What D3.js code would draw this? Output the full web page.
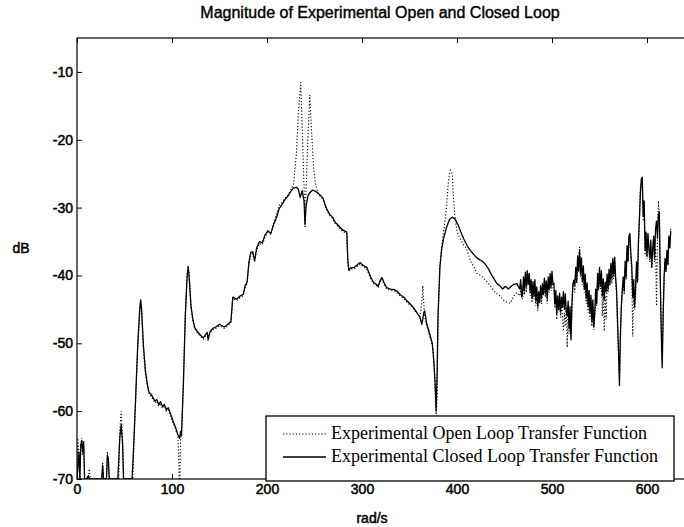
<!DOCTYPE html>
<html>
<head>
<meta charset="utf-8">
<script src="https://cdn.jsdelivr.net/npm/d3@7"></script>
<style>
  body { margin: 0; background: #fff; }
  svg { display: block; }
  text { fill: #000; }
</style>
</head>
<body>
<svg id="chart" width="684" height="527"></svg>
<script>
// Frequency response magnitudes, [rad/s, dB]
const closedLoopDb = [
  [0,-70],[2,-66],[3,-70],[4,-65],[5,-64.3],[6,-66],[7,-64.5],[8,-70],[10,-70],[12,-69.5],[13,-70],
  [26,-70],[27,-68],[28,-70],[31,-70],[32,-66.5],[33,-67],[34,-70],[43,-70],[45,-64],[46.5,-62],[48,-65],[49,-70],[58,-70],
  [60,-64],[62,-57],[64,-50],[66,-45],[67,-43.6],[68,-45],[70,-50.5],[72,-54],[74,-56],[76,-57.3],[78,-57.5],[80,-58],
  [82,-58.5],[84,-58.3],[86,-59],[88,-58.6],[90,-59.3],[92,-59],[94,-59.8],[96,-59.5],[98,-60.2],[100,-61],[102,-61.8],
  [104,-62.5],[106,-63.4],[108,-64],[109,-63],[110,-63.6],[112,-56],[114,-46],[116,-40],[117,-38.8],[118,-40],[120,-44.5],
  [122,-46.5],[124,-47.7],[127,-48.3],[130,-48.8],[133,-49.2],[135,-48.8],[137,-48.4],[138,-49.4],[140,-48.3],[143,-47.8],
  [146,-47.6],[150,-47.2],[155,-47.6],[158,-47.3],[162,-46.8],[163,-45],[164,-43.2],[168,-43.5],[172,-43],[175,-42.8],
  [177,-41.5],[179,-41],[181,-38],[183,-36.6],[185,-36.5],[187,-37.8],[189,-36],[192,-35],[195,-35.2],[198,-34],[201,-33.4],
  [204,-33.8],[207,-32.5],[210,-31.5],[213,-30.1],[216,-29.5],[219,-28.8],[222,-28.3],[225,-27.6],[228,-27.1],[231,-27],
  [233,-27.3],[235,-28.5],[237,-27.5],[239,-29],[240,-32.5],[241,-30],[243,-28.3],[245,-27.8],[248,-27.4],[251,-27.6],
  [254,-27.9],[257,-28.3],[259,-28.6],[261,-29.5],[263,-30.2],[266,-31],[269,-31.4],[272,-32.2],[275,-32.6],[278,-33.1],
  [281,-33.4],[284,-33.6],[285,-37.5],[286,-39.2],[288,-38.9],[292,-38.8],[296,-38.3],[298,-38.1],[301,-38.5],[305,-38.8],
  [307,-39.5],[309,-40.2],[312,-41],[315,-41.3],[317,-41.6],[319,-40.8],[321,-40.3],[323,-41],[326,-41.8],[330,-42],
  [334,-42.1],[337,-42.3],[340,-42.8],[344,-43.2],[347,-43.7],[350,-44.1],[354,-44.7],[357,-45.3],[361,-46.2],[363,-47.2],
  [365,-45.5],[366,-45.2],[368,-47],[370,-48],[372,-49],[374,-50],[375,-51.5],[376,-53.6],[377,-56],[378,-60],[379,-55],
  [380,-46],[382,-38.8],[384,-36],[386,-34.5],[389,-32.9],[392,-31.8],[395,-31.4],[398,-31.7],[401,-32.5],[404,-33.6],
  [407,-34.6],[411,-35.7],[414,-36.3],[417,-36.8],[420,-37.3],[424,-37.7],[427,-37.9],[430,-38.4],[433,-39],[436,-39.8],
  [439,-40.5],[442,-41.2],[445,-41.5],[448,-42],[451,-41.6],[454,-42],[457,-41.6],[460,-41.3],[463,-41.2],
  [466,-42.0],[467,-40.6],[468,-43.2],[469,-42.7],[470,-40.2],[471,-42.2],[472,-39.5],[473,-41.6],[474,-39.3],[475,-41.2],
  [476,-39.7],[477,-42.4],[478,-40.6],[479,-43.4],[480,-40.9],[481,-43.0],[482,-40.6],[483,-43.8],[484,-41.7],[485,-44.6],
  [486,-42.4],[487,-44.0],[488,-41.5],[489,-43.4],[490,-41.2],[491,-42.8],[492,-40.4],[493,-42.6],[494,-40.8],[495,-43.5],
  [496,-40.2],[497,-42.1],[498,-39.7],[499,-41.7],[500,-39.4],[501,-41.3],[502,-41.1],[503,-44.2],[504,-42.2],[505,-45.7],
  [506,-43.0],[507,-45.1],[508,-42.6],[509,-45.4],[510,-43.2],[511,-44.7],[512,-42.4],[513,-45.0],[514,-42.7],[515,-45.3],
  [516,-46.0],[517,-43.8],[518,-47.8],[519,-44.6],[520,-49.5],[521,-44.1],[522,-41.2],[523,-40.7],[524,-41.4],[525,-38.8],
  [526,-41.0],[527,-37.1],[528,-39.3],[529,-36.2],[530,-39.8],[531,-37.4],[532,-40.9],[533,-38.6],[534,-42.0],[535,-39.8],
  [536,-43.4],[537,-41.1],[538,-44.6],[539,-42.2],[540,-45.5],[541,-42.9],[542,-46.8],[543,-43.6],[544,-47.6],[545,-45.5],
  [546,-42.0],[547,-44.2],[548,-39.7],[549,-41.9],[550,-38.8],[551,-41.6],[552,-39.3],[553,-43.0],[554,-40.5],[555,-43.6],
  [556,-41.0],[557,-42.4],[558,-39.8],[559,-42.0],[560,-39.1],[561,-41.2],[562,-38.2],[563,-40.4],[564,-37.5],[565,-40.0],
  [566,-37.3],[567,-40.4],[568,-42.2],[569,-46.8],[570,-51.0],[571,-56.2],[572,-49.0],[573,-44.5],[574,-42.0],[575,-40.2],
  [576,-42.3],[577,-37.9],[578,-40.2],[579,-35.6],[580,-37.9],[581,-34.2],[582,-33.8],[583,-36.8],[584,-38.7],[585,-43.2],
  [586,-40.6],[587,-44.7],[588,-41.8],[589,-38.0],[590,-40.9],[591,-35.0],[592,-31.6],[593,-28.0],[594,-25.8],[595,-25.5],
  [596,-31.2],[597,-29.0],[598,-36.3],[599,-33.6],[600,-37.2],[601,-33.8],[602,-36.0],[603,-37.4],[604,-34.8],[605,-38.7],
  [606,-36.1],[607,-34.2],[608,-37.4],[609,-33.2],[610,-32.0],[611,-34.5],[612,-31.0],[613,-30.6],[614,-41.0],[615,-48.5],
  [616,-53.6],[617,-46.0],[618,-40.2],[619,-37.5],[620,-39.4],[621,-36.3],[622,-38.4],[623,-34.2],[624,-35.9],[625,-33.4]
];

const openLoopDb = [
  [0,-70],[1,-64],[2,-66],[3,-70],[4,-65],[5,-64],[6,-66.5],[7,-65],[8,-70],[12,-70],[13,-68.5],[14,-70],
  [26,-70],[27,-67.5],[28,-70],[31,-70],[32,-66],[33,-68],[34,-70],[44,-70],[45,-63],[46.5,-60],[48,-64],[49,-70],[57,-70],
  [58,-74],[60,-64.5],[62,-57.5],[64,-50.5],[66,-45.5],[67,-43.8],[68,-45.5],[70,-51],[72,-54.5],[74,-56.3],[76,-57.5],
  [78,-57.8],[80,-58.2],[82,-58.8],[84,-58.5],[86,-59.3],[88,-58.8],[90,-59.6],[92,-59.2],[94,-60],[96,-59.8],[98,-60.5],
  [100,-61.3],[102,-62],[104,-62.8],[106,-63.5],[107,-66],[108,-73],[109,-64],[110,-63.4],[112,-55.5],[114,-45.5],
  [116,-39.5],[117,-38.5],[118,-39.8],[120,-44.8],[122,-46.8],[124,-47.9],[127,-48.5],[130,-49],[133,-49.4],[135,-49],
  [137,-48.6],[138,-49.6],[140,-48.5],[143,-48],[146,-47.8],[150,-47.4],[155,-47.8],[158,-47.5],[162,-47],[163,-45.2],
  [164,-43.4],[168,-43.7],[172,-43.2],[175,-43],[177,-41.8],[179,-41.2],[181,-38.3],[183,-37],[185,-36.8],[187,-38],
  [189,-36.3],[192,-35.3],[195,-35.5],[198,-34.3],[201,-33.6],[204,-34],[207,-32.2],[210,-31],[213,-29.6],[216,-29.2],
  [219,-28.6],[222,-28.2],[225,-27.4],[228,-26.5],[231,-22],[233,-16],[235.5,-11.5],[237,-18],[239,-27],[240,-33],
  [241,-28],[243,-20],[245,-13.4],[247,-19],[249,-24],[251,-26.5],[254,-28],[257,-28.5],[259,-28.8],[261,-29.7],
  [263,-30.4],[266,-31.2],[269,-31.6],[272,-32.4],[275,-32.8],[278,-33.3],[281,-33.6],[284,-33.8],[285,-37.8],[286,-39.4],
  [288,-39.1],[292,-39],[296,-38.5],[298,-38.3],[301,-38.7],[305,-39],[307,-39.7],[309,-40.4],[312,-41.2],[315,-41.5],
  [317,-41.8],[319,-41],[321,-40.5],[323,-41.2],[326,-42],[330,-42.2],[334,-42.3],[337,-42.5],[340,-43],[344,-43.4],
  [347,-43.9],[350,-44.3],[354,-44.9],[357,-45.5],[361,-46],[363,-44],[364,-41.5],[365,-44],[366,-46],[368,-47.3],
  [370,-48.3],[372,-49.3],[374,-50.3],[375,-51.8],[376,-53],[377,-57],[378,-61],[379,-58],[380,-47],[382,-38.5],
  [384,-35.5],[386,-33.5],[389,-30],[391,-26],[393,-24.5],[395,-25],[396,-28],[398,-31.5],[400,-33.5],[403,-34.5],
  [407,-35.5],[410,-36],[414,-37.8],[418,-38.8],[421,-39.7],[425,-40],[430,-40.7],[435,-41.5],[440,-42.5],[445,-43],
  [450,-43.8],[456,-44.1],[460,-43],[463,-42.5],
  [466,-43.0],[468,-41.5],[469,-43.5],[470,-41.0],[471,-42.8],[472,-40.2],[473,-42.5],[474,-40.6],[475,-41.5],[476,-40.3],
  [477,-43.0],[478,-41.5],[479,-44.0],[480,-42.0],[481,-43.5],[482,-41.6],[483,-44.5],[484,-42.7],[485,-45.2],[486,-43.2],
  [487,-44.0],[488,-42.3],[489,-44.2],[490,-42.0],[491,-43.0],[492,-40.5],[493,-43.2],[494,-41.5],[495,-44.2],[496,-41.0],
  [497,-42.5],[498,-40.5],[499,-42.3],[500,-40.2],[501,-41.8],[502,-42.2],[503,-44.8],[504,-43.0],[505,-46.5],[506,-44.0],
  [507,-45.2],[508,-43.5],[509,-46.2],[510,-44.0],[511,-46.0],[512,-48.2],[513,-45.5],[514,-47.5],[515,-44.6],[516,-50.6],
  [517,-45.0],[518,-48.6],[519,-46.2],[520,-49.0],[521,-45.0],[522,-42.0],[523,-40.8],[524,-42.5],[525,-39.8],[526,-41.2],
  [527,-37.9],[528,-39.5],[529,-35.8],[530,-40.2],[531,-38.5],[532,-41.4],[533,-39.6],[534,-42.5],[535,-41.0],[536,-44.2],
  [537,-42.0],[538,-45.5],[539,-43.2],[540,-46.5],[541,-44.0],[542,-47.5],[543,-44.6],[544,-48.0],[545,-46.2],[546,-43.0],
  [547,-44.5],[548,-41.0],[549,-42.2],[550,-39.5],[551,-42.0],[552,-40.5],[553,-46.0],[554,-42.0],[555,-48.2],[556,-43.0],
  [557,-46.5],[558,-41.0],[559,-42.5],[560,-40.2],[561,-41.6],[562,-39.0],[563,-41.2],[564,-38.4],[565,-40.5],[566,-38.0],
  [567,-41.0],[568,-43.0],[569,-47.5],[570,-51.5],[571,-55.0],[572,-48.0],[573,-45.0],[574,-42.5],[575,-41.2],[576,-42.8],
  [577,-39.0],[578,-40.6],[579,-36.5],[580,-38.0],[581,-35.0],[582,-34.5],[583,-37.2],[584,-40.0],[585,-49.0],[586,-42.0],
  [587,-45.0],[588,-43.0],[589,-38.5],[590,-41.2],[591,-35.5],[592,-32.0],[593,-27.0],[594,-26.5],[595,-27.5],[596,-32.0],
  [597,-30.0],[598,-37.0],[599,-34.8],[600,-37.5],[601,-34.5],[602,-36.2],[603,-38.0],[604,-36.0],[605,-39.0],[606,-37.0],
  [607,-35.5],[608,-38.0],[609,-36.0],[610,-44.5],[611,-35.0],[612,-29.0],[613,-31.0],[614,-40.0],[615,-47.0],[616,-52.0],
  [617,-45.0],[618,-41.0],[619,-38.0],[620,-39.5],[621,-37.0],[622,-38.5],[623,-35.0],[624,-36.0],[625,-33.0]
];

const xTicks = [0, 100, 200, 300, 400, 500, 600];
const yTicks = [-70, -60, -50, -40, -30, -20, -10];
const legendLabels = ["Experimental Open Loop Transfer Function", "Experimental Closed Loop Transfer Function"];

const svg = d3.select("#chart");
const plot = { left: 77, top: 38, right: 685, bottom: 479 };

const x = d3.scaleLinear().domain([0, 640]).range([plot.left, plot.right]);
const y = d3.scaleLinear().domain([-70, -5]).range([plot.bottom, plot.top]);

const sansFont = "'Liberation Sans', Arial, Helvetica, sans-serif";
const serifFont = "'Liberation Serif', 'Times New Roman', serif";
const plainNumber = d => String(d);   // ASCII hyphen for negatives

svg.append("rect").attr("width", 684).attr("height", 527).attr("fill", "#fff");

svg.append("defs").append("clipPath").attr("id", "plotClip")
  .append("rect")
  .attr("x", plot.left).attr("y", plot.top)
  .attr("width", plot.right - plot.left).attr("height", plot.bottom - plot.top);

// Data lines
const line = d3.line().x(d => x(d[0])).y(d => y(d[1]));
const lines = svg.append("g").attr("clip-path", "url(#plotClip)");

lines.append("path")
  .datum(closedLoopDb)
  .attr("d", line)
  .attr("fill", "none")
  .attr("stroke", "#000")
  .attr("stroke-width", 1.3)
  .attr("stroke-linejoin", "round");

lines.append("path")
  .datum(openLoopDb)
  .attr("d", line)
  .attr("fill", "none")
  .attr("stroke", "#000")
  .attr("stroke-width", 1.1)
  .attr("stroke-dasharray", "1.2,2");

// Axes with inward ticks
const styleAxis = g => {
  g.select(".domain").remove();
  g.selectAll(".tick line").attr("stroke", "#000").attr("stroke-width", 1);
  g.selectAll(".tick text")
    .attr("font-family", sansFont)
    .attr("font-size", 14)
    .attr("fill", "#000")
    .attr("stroke", "#000")
    .attr("stroke-width", 0.5);
};

svg.append("g")
  .attr("transform", `translate(0,${plot.bottom})`)
  .call(d3.axisBottom(x).tickValues(xTicks).tickFormat(plainNumber)
    .tickSizeInner(-5).tickSizeOuter(0).tickPadding(5))
  .call(styleAxis);

svg.append("g")
  .attr("transform", `translate(0,${plot.top})`)
  .call(d3.axisTop(x).tickValues(xTicks).tickSizeInner(-5).tickSizeOuter(0).tickFormat(""))
  .call(styleAxis);

svg.append("g")
  .attr("transform", `translate(${plot.left},0)`)
  .call(d3.axisLeft(y).tickValues(yTicks).tickFormat(plainNumber)
    .tickSizeInner(-5).tickSizeOuter(0).tickPadding(4))
  .call(styleAxis);

// Axes frame
svg.append("rect")
  .attr("x", plot.left).attr("y", plot.top)
  .attr("width", plot.right - plot.left).attr("height", plot.bottom - plot.top)
  .attr("fill", "none").attr("stroke", "#000").attr("stroke-width", 1.2);

// Title and axis labels
svg.append("text")
  .attr("x", 380).attr("y", 18)
  .attr("text-anchor", "middle")
  .attr("font-family", sansFont).attr("font-size", 16)
  .attr("stroke", "#000").attr("stroke-width", 0.4)
  .text("Magnitude of Experimental Open and Closed Loop");

svg.append("text")
  .attr("x", 372).attr("y", 523)
  .attr("text-anchor", "middle")
  .attr("font-family", sansFont).attr("font-size", 14)
  .attr("stroke", "#000").attr("stroke-width", 0.5)
  .text("rad/s");

svg.append("text")
  .attr("x", 21).attr("y", 253)
  .attr("text-anchor", "middle")
  .attr("font-family", sansFont).attr("font-size", 14)
  .attr("stroke", "#000").attr("stroke-width", 0.5)
  .text("dB");

// Legend
const legend = svg.append("g");
legend.append("rect")
  .attr("x", 266).attr("y", 416).attr("width", 408).attr("height", 65)
  .attr("fill", "#fff").attr("stroke", "#000").attr("stroke-width", 1.3);

const legendStyles = [
  { dash: "1.2,2", width: 1.1 },
  { dash: null, width: 1.4 }
];
legendLabels.forEach((label, i) => {
  const ly = 434 + i * 23;
  legend.append("line")
    .attr("x1", 283).attr("x2", 326).attr("y1", ly).attr("y2", ly)
    .attr("stroke", "#000")
    .attr("stroke-width", legendStyles[i].width)
    .attr("stroke-dasharray", legendStyles[i].dash);
  legend.append("text")
    .attr("x", 331).attr("y", ly + 5)
    .attr("font-family", serifFont).attr("font-size", 18)
    .text(label);
});
</script>
</body>
</html>
